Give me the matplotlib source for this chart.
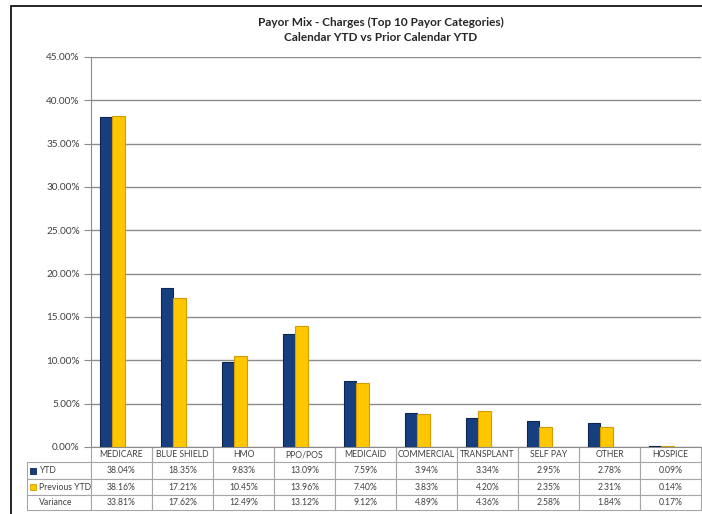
import matplotlib.pyplot as plt
import numpy as np
from matplotlib.patches import Rectangle
from matplotlib.table import Table

categories = ["MEDICARE", "BLUE SHIELD", "HMO", "PPO/POS", "MEDICAID",
              "COMMERCIAL", "TRANSPLANT", "SELF PAY", "OTHER", "HOSPICE"]
ytd = [38.04, 18.35, 9.83, 13.09, 7.59, 3.94, 3.34, 2.95, 2.78, 0.09]
prev_ytd = [38.16, 17.21, 10.45, 13.96, 7.40, 3.83, 4.20, 2.35, 2.31, 0.14]
variance = [33.81, 17.62, 12.49, 13.12, 9.12, 4.89, 4.36, 2.58, 1.84, 0.17]
row_labels = ["YTD", "Previous YTD", "Variance"]
y_ticks = np.arange(0, 46, 5)

title = "Payor Mix - Charges (Top 10 Payor Categories)\nCalendar YTD vs Prior Calendar YTD"

NAVY = "#173f80"
YELLOW = "#ffc700"
GRID = "#8c8c8c"
TEXT = "#404040"

plt.rcParams["font.family"] = ["Lato", "DejaVu Sans"]

W, H = 702, 514
fig = plt.figure(figsize=(W / 100, H / 100), dpi=100)
ax = fig.add_axes([91 / W, 1 - 447 / H, 610 / W, 390 / H])

x = np.arange(len(categories))
ax.bar(x - 0.26, ytd, width=0.2, color=NAVY, edgecolor="#0c2552", linewidth=0.8, zorder=3)
ax.bar(x - 0.05, prev_ytd, width=0.22, color=YELLOW, edgecolor="#d49c00", linewidth=0.8, zorder=3)

ax.set_xlim(-0.5, len(categories) - 0.5)
ax.set_ylim(0, 45)
ax.set_yticks(y_ticks)
ax.set_yticklabels([f"{v:.2f}%" for v in y_ticks], fontsize=7.2, color=TEXT)
ax.set_xticks([])
ax.grid(axis="y", color=GRID, linewidth=1, zorder=0)
ax.tick_params(axis="y", length=5, color=GRID, pad=3)
for side in ["top", "right"]:
    ax.spines[side].set_visible(False)
ax.spines["left"].set_color(GRID)
ax.spines["bottom"].set_color(GRID)

# data table under the plot
tbl = Table(ax, bbox=[(27 - 91) / 610, -63 / 390, (701 - 27) / 610, 63 / 390])
col_w = [64] + [61] * len(categories)
row_h = [15, 17, 16, 15]
rows = [ytd, prev_ytd, variance]
for c, w in enumerate(col_w):
    txt = categories[c - 1] if c > 0 else ""
    cell = tbl.add_cell(0, c, w, row_h[0], text=txt, loc="center")
    cell.visible_edges = "LR" if c > 0 else ""
for r, vals in enumerate(rows, start=1):
    cell = tbl.add_cell(r, 0, col_w[0], row_h[r], text=row_labels[r - 1], loc="left")
    cell.PAD = 0.18
    for c, v in enumerate(vals, start=1):
        tbl.add_cell(r, c, col_w[c], row_h[r], text=f"{v:.2f}%", loc="center")
tbl.auto_set_font_size(False)
tbl.set_fontsize(6.2)
for (r, c), cell in tbl.get_celld().items():
    cell.set_edgecolor("#a6a6a6")
    cell.set_linewidth(0.8)
    cell.get_text().set_color(TEXT)
ax.add_table(tbl)

# legend keys in the row labels
for y_mid, col, edge in [(470.5, NAVY, "#0c2552"), (487, YELLOW, "#d49c00")]:
    ax.add_patch(Rectangle(((30 - 91) / 610, (447 - y_mid - 3) / 390), 6 / 610, 6 / 390,
                           transform=ax.transAxes, facecolor=col, edgecolor=edge,
                           linewidth=0.6, clip_on=False))

fig.text(381 / W, 1 - 30 / H, title, ha="center", va="center", fontsize=8.5,
         fontweight="bold", color="#262626", linespacing=1.35)

# outer frame
fig.add_artist(Rectangle((11 / W, -0.1), 2, 1.1 - 6 / H, transform=fig.transFigure,
                         fill=False, edgecolor="black", linewidth=1.2))

fig.savefig("out.png", dpi=100)
